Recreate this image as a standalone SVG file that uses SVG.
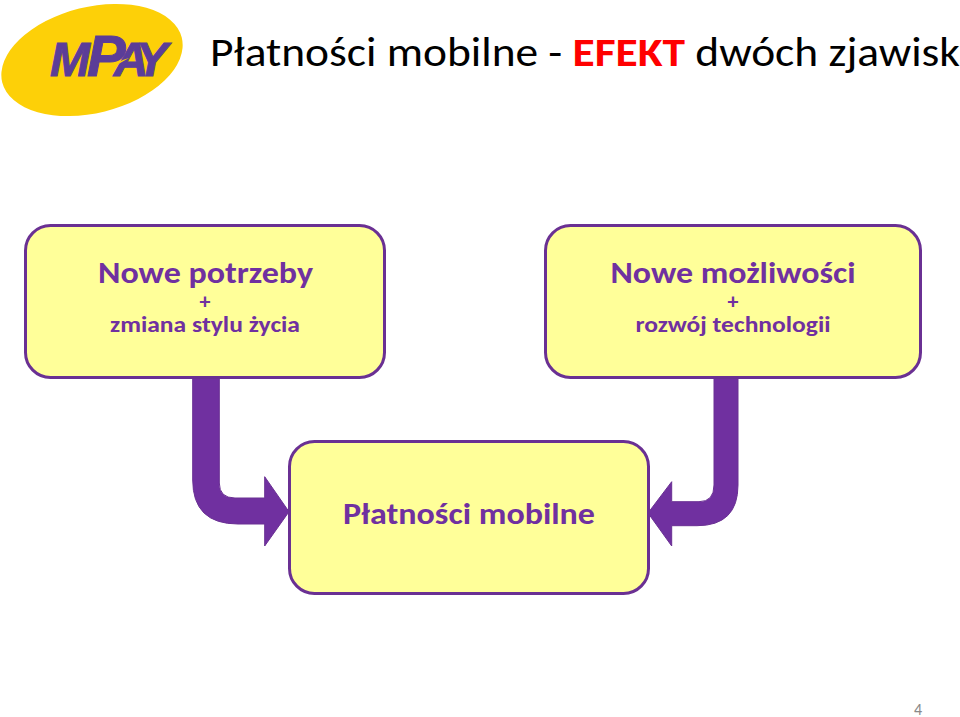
<svg xmlns="http://www.w3.org/2000/svg" width="960" height="717" viewBox="0 0 960 717">
<style>
text{font-family:Carlito,Lato,"Open Sans",sans-serif;text-anchor:middle;fill:#7030a0}
.box{fill:#ffff99;stroke:#6a3093;stroke-width:3}
.arrow{fill:#7030a0;stroke:#6a3093;stroke-width:1;stroke-linejoin:round}
.h{font-size:31px;font-weight:700}.s{font-size:22px;font-weight:700}
</style>
<rect width="960" height="717" fill="#fff"/>
<g id="logo">
<ellipse cx="92" cy="60" rx="92.500" ry="53" transform="rotate(-14 92 60)" fill="#fdd008"/>
<text x="50" y="76" style="font-family:'Liberation Sans',sans-serif;font-weight:700;font-style:italic;font-size:48px;text-anchor:start;fill:#5b3d98;stroke:#5b3d98;stroke-width:1">M<tspan dx="-3" font-size="58">P</tspan><tspan dx="-12">A</tspan><tspan dx="-9">Y</tspan></text>
<path d="M107 69Q118 61 129 58Q119 63 110 70Z" fill="#fdd008"/>
</g>
<g id="title"><text x="585" y="66" style="font-size:40px;fill:#000" textLength="750" lengthAdjust="spacingAndGlyphs">Płatności mobilne - <tspan style="fill:#f00;font-weight:700">EFEKT</tspan> dwóch zjawisk</text></g>
<g id="connectors">
<path class="arrow" d="M192.700 378H219.300V483Q219.300 498 235 498H264.700V476.700L289 511.700L264.700 546V524H238Q192.700 524 192.700 480Z"/>
<path class="arrow" d="M714 378H738V485Q738 525.700 697 525.700H671.700V546L648 513L671.700 481.700V501.700H699Q714 501.700 714 485Z"/>
</g>
<g id="node-potrzeby">
<rect class="box" x="25.500" y="225.500" width="359" height="152" rx="25"/>
<text class="h" x="205.500" y="283" textLength="215" lengthAdjust="spacingAndGlyphs">Nowe potrzeby</text>
<text class="s" x="205" y="309">+</text>
<text class="s" x="205" y="332" textLength="190" lengthAdjust="spacingAndGlyphs">zmiana stylu życia</text>
</g>
<g id="node-mozliwosci">
<rect class="box" x="545.500" y="225.500" width="375" height="152" rx="25"/>
<text class="h" x="733" y="283" textLength="245" lengthAdjust="spacingAndGlyphs">Nowe możliwości</text>
<text class="s" x="733" y="309">+</text>
<text class="s" x="733" y="332" textLength="195" lengthAdjust="spacingAndGlyphs">rozwój technologii</text>
</g>
<g id="node-platnosci">
<rect class="box" x="289.500" y="441.500" width="359" height="152" rx="25"/>
<text class="h" x="469" y="524" textLength="252" lengthAdjust="spacingAndGlyphs">Płatności mobilne</text>
</g>
<g id="page"><text x="918" y="715" style="font-size:16px;fill:#8a8a8a">4</text></g>
</svg>
